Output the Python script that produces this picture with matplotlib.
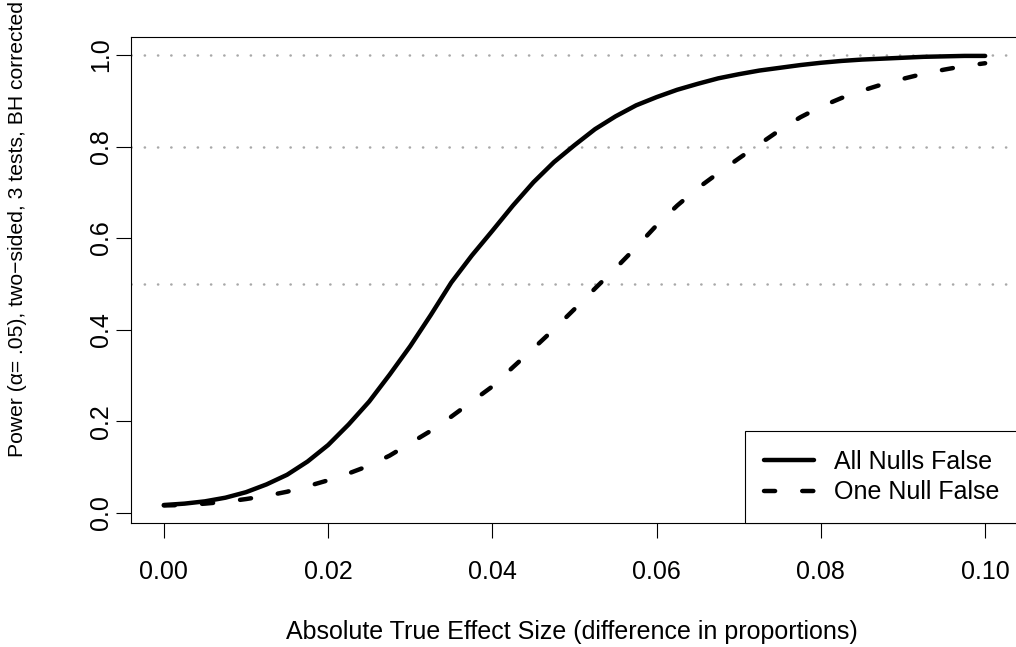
import matplotlib
matplotlib.use("Agg")
import matplotlib.pyplot as plt

plt.rcParams['font.family'] = ['Liberation Sans', 'DejaVu Sans']

# effect sizes (difference in proportions)
effect = [0.0000, 0.0025, 0.0050, 0.0075, 0.0100, 0.0125, 0.0150, 0.0175, 0.0200, 0.0225,
          0.0250, 0.0275, 0.0300, 0.0325, 0.0350, 0.0375, 0.0400, 0.0425, 0.0450, 0.0475,
          0.0500, 0.0525, 0.0550, 0.0575, 0.0600, 0.0625, 0.0650, 0.0675, 0.0700, 0.0725,
          0.0750, 0.0775, 0.0800, 0.0825, 0.0850, 0.0875, 0.0900, 0.0925, 0.0950, 0.0975,
          0.1000]

# power curves
all_nulls_false = [0.017, 0.020, 0.025, 0.033, 0.045, 0.062, 0.083, 0.112, 0.148, 0.193,
                   0.243, 0.302, 0.364, 0.432, 0.503, 0.562, 0.616, 0.671, 0.722, 0.766,
                   0.803, 0.838, 0.866, 0.890, 0.908, 0.924, 0.937, 0.949, 0.958, 0.966,
                   0.972, 0.978, 0.983, 0.987, 0.990, 0.992, 0.994, 0.996, 0.997, 0.998,
                   0.998]
one_null_false = [0.016, 0.017, 0.020, 0.024, 0.030, 0.037, 0.046, 0.058, 0.071, 0.086,
                  0.103, 0.125, 0.152, 0.179, 0.210, 0.243, 0.276, 0.318, 0.359, 0.401,
                  0.445, 0.490, 0.534, 0.580, 0.628, 0.671, 0.709, 0.742, 0.774, 0.805,
                  0.836, 0.864, 0.887, 0.906, 0.922, 0.936, 0.948, 0.959, 0.968, 0.976,
                  0.982]

ref_lines = [0.5, 0.8, 1.0]
x_ticks = [0.00, 0.02, 0.04, 0.06, 0.08, 0.10]
y_ticks = [0.0, 0.2, 0.4, 0.6, 0.8, 1.0]

W, H = 1016, 647
fig = plt.figure(figsize=(W / 100, H / 100), dpi=100)
# axes box in pixels: left 131, right 1018, top 37, bottom 523
ax = fig.add_axes([131 / W, (H - 523) / H, (1018 - 131) / W, (523 - 37) / H])

for y in ref_lines:
    ax.axhline(y, color='#a8a8a8', lw=1.8, ls=(0, (0.1, 5.2)),
               dash_capstyle='round', zorder=1)

ax.plot(effect, all_nulls_false, color='black', lw=3.2, solid_capstyle='round',
        solid_joinstyle='round', label='All Nulls False', zorder=3)
ax.plot(effect, one_null_false, color='black', lw=3.2, ls=(0, (2.5, 6.1)),
        dash_capstyle='round', label='One Null False', zorder=3)

ax.set_xlim(-0.004, 0.104)
ax.set_ylim(-0.0223, 1.0393)
ax.set_xticks(x_ticks)
ax.set_xticklabels([f"{t:.2f}" for t in x_ticks])
ax.set_yticks(y_ticks)
ax.set_yticklabels([f"{t:.1f}" for t in y_ticks], rotation=90, va='center')
ax.tick_params(axis='both', direction='out', length=10.8, width=0.8, labelsize=18)
ax.tick_params(axis='x', pad=16)
ax.tick_params(axis='y', pad=2)
for s in ax.spines.values():
    s.set_linewidth(0.8)

fig.text(572 / W, (H - 639) / H, 'Absolute True Effect Size (difference in proportions)',
         ha='center', va='baseline', fontsize=18)
fig.text(18 / W, (H - 457) / H, 'Power (α= .05), two−sided, 3 tests, BH corrected',
         rotation=90, ha='center', va='bottom', fontsize=15.2)

leg = ax.legend(loc='lower right', fontsize=18, frameon=True, fancybox=False,
                edgecolor='black', framealpha=1, borderaxespad=0, borderpad=0.75,
                handlelength=2.0, handletextpad=0.8, labelspacing=0.26)
leg.get_frame().set_linewidth(0.8)

fig.savefig('out.png', dpi=100)
